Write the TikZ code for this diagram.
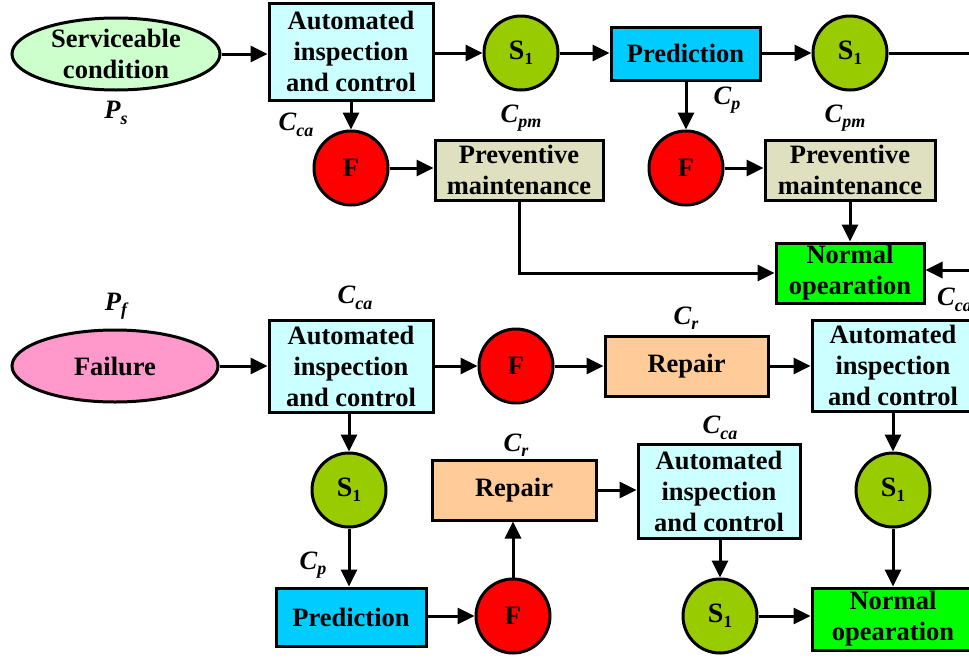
\documentclass[tikz,border=0pt]{standalone}
\usepackage{fontspec}
\setmainfont{Liberation Serif}
\usetikzlibrary{arrows.meta,shapes.geometric}
\definecolor{svcgreen}{RGB}{204,255,204}
\definecolor{autocyan}{RGB}{204,255,255}
\definecolor{sgreen}{RGB}{153,204,0}
\definecolor{predblue}{RGB}{0,204,255}
\definecolor{pmfill}{RGB}{222,224,192}
\definecolor{normgreen}{RGB}{0,255,0}
\definecolor{failpink}{RGB}{255,153,204}
\definecolor{repfill}{RGB}{255,204,153}
\newcommand{\mainf}{\fontsize{26.5}{31}\selectfont\bfseries}
\newcommand{\subl}[2]{#1\raisebox{-0.45ex}{\fontsize{18}{18}\selectfont #2}}
\newcommand{\Sone}{{\fontsize{28}{28}\selectfont S}\raisebox{-0.4ex}{\fontsize{17}{17}\selectfont 1}}
\tikzset{
  bx/.style={draw, line width=3pt, align=center, inner sep=0pt, font=\mainf, minimum width=#1},
  circ/.style={circle, draw, line width=3pt, inner sep=0pt, minimum size=74pt, font=\mainf},
  ell/.style={ellipse, draw, line width=3pt, inner sep=0pt, align=center, font=\mainf, minimum height=72pt},
  lbl/.style={font=\mainf\itshape, inner sep=0pt},
  arr/.style={line width=3pt, -{Triangle[length=17pt,width=16pt]}},
  ln/.style={line width=3pt}
}
\begin{document}
\begin{tikzpicture}[x=1pt,y=-1pt]
\useasboundingbox (0,0) rectangle (969,659);
\clip (0,0) rectangle (969,659);
% top row
\node[ell, fill=svcgreen, minimum width=208pt] (svc) at (116,54) {Serviceable\\condition};
\node[bx=164pt, fill=autocyan, minimum height=97pt] (auto1) at (351,51.5) {Automated\\inspection\\and control};
\node[circ, fill=sgreen] (s1a) at (521,53) {\Sone};
\node[bx=149pt, fill=predblue, minimum height=53pt] (pred1) at (685.5,53.5) {Prediction};
\node[circ, fill=sgreen] (s1b) at (850,53) {\Sone};
\coordinate (edge1) at (975,53);
\node[circ, fill=red] (f1) at (351,168) {F};
\node[bx=168pt, fill=pmfill, minimum height=60pt] (pm1) at (519,170) {Preventive\\maintenance};
\node[circ, fill=red] (f2) at (686,168) {F};
\node[bx=170pt, fill=pmfill, minimum height=60pt] (pm2) at (850,170) {Preventive\\maintenance};
\node[bx=148pt, fill=normgreen, minimum height=60pt] (no1) at (850,273) {Normal\\opearation};
\coordinate (edge2) at (975,270);
% labels top
\node[lbl] (ps) at (116,113) {\subl{P}{s}};
\node[lbl] (cca1) at (296,125) {\subl{C}{ca}};
\node[lbl] (cpm1) at (521,118) {\subl{C}{pm}};
\node[lbl] (cp1) at (727,100) {\subl{C}{p}};
\node[lbl] (cpm2) at (845,118) {\subl{C}{pm}};
\node[lbl, anchor=west] (cca5) at (937,300) {\subl{C}{ca}};
% bottom
\node[ell, fill=failpink, minimum width=206pt] (fail) at (115,366) {Failure};
\node[bx=164pt, fill=autocyan, minimum height=92pt] (auto2) at (351,366) {Automated\\inspection\\and control};
\node[circ, fill=red] (f3) at (516,366) {F};
\node[bx=163pt, fill=repfill, minimum height=60pt] (rep1) at (686.5,366) {Repair};
\node[bx=162pt, fill=autocyan, minimum height=91pt] (auto3) at (893,365.5) {Automated\\inspection\\and control};
\node[circ, fill=sgreen] (s1c) at (349,490) {\Sone};
\node[bx=150pt, fill=predblue, minimum height=58pt] (pred2) at (351,617) {Prediction};
\node[circ, fill=red] (f4) at (513,616) {F};
\node[bx=164pt, fill=repfill, minimum height=60pt] (rep2) at (514,490) {Repair};
\node[bx=162pt, fill=autocyan, minimum height=94pt] (auto4) at (719,491) {Automated\\inspection\\and control};
\node[circ, fill=sgreen] (s1d) at (720,616) {\Sone};
\node[circ, fill=sgreen] (s1e) at (893,490) {\Sone};
\node[bx=162pt, fill=normgreen, minimum height=62pt] (no2) at (893,619) {Normal\\opearation};
% labels bottom
\node[lbl] (pf) at (116,306) {\subl{P}{f}};
\node[lbl] (cca2) at (355,298) {\subl{C}{ca}};
\node[lbl] (cr1) at (686,318) {\subl{C}{r}};
\node[lbl] (cr2) at (516,445) {\subl{C}{r}};
\node[lbl] (cca4) at (720,428) {\subl{C}{ca}};
\node[lbl] (cp2) at (313,565) {\subl{C}{p}};
% connectors top
\draw[arr] (svc) -- (auto1.west |- svc);
\draw[arr] (auto1.east |- s1a) -- (s1a);
\draw[arr] (s1a) -- (pred1.west |- s1a);
\draw[arr] (pred1.east |- s1b) -- (s1b);
\draw[ln] (s1b) -- (edge1);
\draw[arr] (auto1.south -| f1) -- (f1);
\draw[arr] (f1) -- (pm1.west |- f1);
\draw[arr] (pred1.south -| f2) -- (f2);
\draw[arr] (f2) -- (pm2.west |- f2);
\draw[arr] (pm2.south) -- (no1.north);
\draw[arr] (pm1.south) |- (no1.west);
\draw[arr] (edge2) -- (no1.east |- edge2);
% connectors bottom
\draw[arr] (fail) -- (auto2.west |- fail);
\draw[arr] (auto2.east |- f3) -- (f3);
\draw[arr] (f3) -- (rep1.west |- f3);
\draw[arr] (rep1.east) -- (auto3.west |- rep1.east);
\draw[arr] (auto2.south -| s1c) -- (s1c);
\draw[arr] (s1c) -- (pred2.north -| s1c);
\draw[arr] (pred2.east |- f4) -- (f4);
\draw[arr] (f4) -- (rep2.south -| f4);
\draw[arr] (rep2.east) -- (auto4.west |- rep2.east);
\draw[arr] (auto4.south -| s1d) -- (s1d);
\draw[arr] (s1d) -- (no2.west |- s1d);
\draw[arr] (auto3.south -| s1e) -- (s1e);
\draw[arr] (s1e) -- (no2.north -| s1e);
\end{tikzpicture}
\end{document}
